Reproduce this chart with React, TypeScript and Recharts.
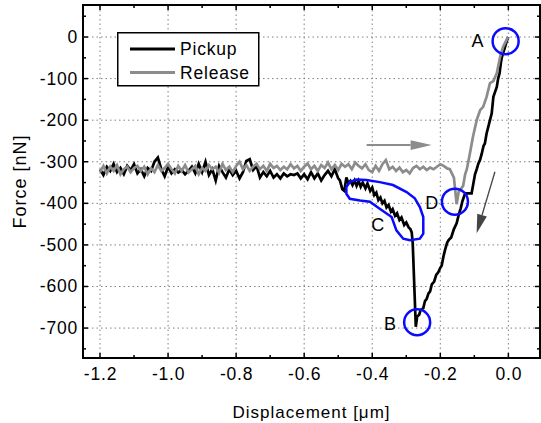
import React from 'react';
import { ComposedChart, Line, XAxis, YAxis, ReferenceLine, ReferenceDot, ReferenceArea, Legend } from 'recharts';

const FONT = '"Liberation Sans", Arial, Helvetica, sans-serif';
const CHART_W = 541;
const CHART_H = 423;
const MARGIN = { top: 5, right: 1, bottom: 0, left: 0 };
const PLOT_TOP = MARGIN.top;
const PLOT_RIGHT = CHART_W - MARGIN.right;

const xDomain = [-1.25, 0.093];
const yDomain = [-772, 77];
const xTicks = [-1.2, -1.1, -1.0, -0.9, -0.8, -0.7, -0.6, -0.5, -0.4, -0.3, -0.2, -0.1, 0];
const yTicks = [-750, -700, -650, -600, -550, -500, -450, -400, -350, -300, -250, -200, -150, -100, -50, 0, 50];
const xGrid = [-1.2, -1.0, -0.8, -0.6, -0.4, -0.2, 0];
const yGrid = [-700, -600, -500, -400, -300, -200, -100, 0];

// displacement [um], force [nN]
const pickup = [
  [-1.2, -318], [-1.19, -332], [-1.18, -312], [-1.17, -322], [-1.16, -305], [-1.15, -325], [-1.14, -315],
  [-1.13, -330], [-1.12, -310], [-1.11, -320], [-1.1, -306], [-1.09, -328], [-1.08, -318], [-1.07, -335],
  [-1.06, -315], [-1.05, -322], [-1.04, -300], [-1.03, -290], [-1.02, -318], [-1.01, -335], [-1.0, -312],
  [-0.99, -328], [-0.98, -318], [-0.97, -326], [-0.96, -320], [-0.95, -330], [-0.94, -322], [-0.93, -312],
  [-0.92, -328], [-0.91, -305], [-0.9, -325], [-0.89, -300], [-0.88, -332], [-0.87, -318], [-0.86, -345],
  [-0.85, -310], [-0.84, -325], [-0.83, -338], [-0.82, -318], [-0.81, -332], [-0.8, -322], [-0.79, -340],
  [-0.78, -325], [-0.77, -298], [-0.76, -294], [-0.75, -320], [-0.74, -310], [-0.73, -338], [-0.72, -325],
  [-0.71, -335], [-0.7, -322], [-0.69, -338], [-0.68, -330], [-0.67, -340], [-0.66, -328], [-0.65, -335],
  [-0.64, -330], [-0.63, -332], [-0.62, -328], [-0.61, -340], [-0.6, -330], [-0.59, -342], [-0.58, -325],
  [-0.57, -340], [-0.56, -328], [-0.55, -345], [-0.54, -332], [-0.53, -322], [-0.52, -335], [-0.51, -318],
  [-0.5, -340], [-0.495, -345], [-0.488, -366], [-0.482, -370], [-0.476, -338], [-0.47, -352], [-0.464, -346],
  [-0.458, -356], [-0.452, -345], [-0.446, -358], [-0.44, -346], [-0.434, -360], [-0.428, -350], [-0.42, -364],
  [-0.414, -352], [-0.406, -370], [-0.4, -362], [-0.394, -380], [-0.388, -374], [-0.382, -392], [-0.376, -386],
  [-0.37, -400], [-0.364, -394], [-0.358, -410], [-0.352, -404], [-0.345, -420], [-0.34, -414], [-0.333, -430],
  [-0.327, -424], [-0.32, -440], [-0.314, -434], [-0.306, -452], [-0.3, -446], [-0.293, -458], [-0.288, -462],
  [-0.284, -470], [-0.281, -496], [-0.272, -697], [-0.268, -672], [-0.262, -668], [-0.258, -657], [-0.25, -652],
  [-0.245, -635], [-0.24, -630], [-0.235, -617], [-0.23, -612], [-0.225, -595], [-0.218, -588], [-0.212, -572],
  [-0.206, -566], [-0.2, -555], [-0.196, -550], [-0.19, -525], [-0.186, -512], [-0.18, -495], [-0.175, -488],
  [-0.168, -482], [-0.16, -462], [-0.152, -448], [-0.145, -425], [-0.14, -412], [-0.135, -395], [-0.127, -376],
  [-0.108, -376], [-0.104, -358], [-0.098, -330], [-0.093, -318], [-0.088, -304], [-0.083, -295], [-0.078, -280],
  [-0.073, -262], [-0.069, -256], [-0.064, -232], [-0.059, -216], [-0.054, -200], [-0.049, -184], [-0.046, -160],
  [-0.044, -144], [-0.039, -132], [-0.034, -120], [-0.03, -100], [-0.026, -88], [-0.022, -62], [-0.019, -48],
  [-0.014, -35], [-0.01, -24], [-0.004, -8], [0, 0],
];

const release = [
  [-1.2, -325], [-1.19, -310], [-1.18, -328], [-1.17, -312], [-1.16, -322], [-1.15, -308], [-1.14, -330],
  [-1.13, -318], [-1.12, -312], [-1.11, -325], [-1.1, -315], [-1.09, -310], [-1.08, -322], [-1.07, -312],
  [-1.06, -330], [-1.05, -316], [-1.04, -325], [-1.03, -308], [-1.02, -322], [-1.01, -315], [-1.0, -305],
  [-0.99, -318], [-0.98, -328], [-0.97, -310], [-0.96, -322], [-0.95, -308], [-0.94, -326], [-0.93, -318],
  [-0.92, -310], [-0.91, -330], [-0.9, -315], [-0.89, -322], [-0.88, -308], [-0.87, -318], [-0.86, -312],
  [-0.85, -326], [-0.84, -305], [-0.83, -320], [-0.82, -312], [-0.81, -325], [-0.8, -310], [-0.79, -300],
  [-0.78, -318], [-0.77, -308], [-0.76, -322], [-0.75, -312], [-0.74, -305], [-0.73, -318], [-0.72, -310],
  [-0.71, -322], [-0.7, -305], [-0.69, -315], [-0.68, -310], [-0.67, -320], [-0.66, -312], [-0.65, -318],
  [-0.64, -306], [-0.63, -316], [-0.62, -310], [-0.61, -322], [-0.6, -312], [-0.59, -304], [-0.58, -318],
  [-0.57, -310], [-0.56, -322], [-0.55, -308], [-0.54, -315], [-0.53, -302], [-0.52, -318], [-0.51, -308],
  [-0.5, -320], [-0.49, -305], [-0.48, -312], [-0.47, -306], [-0.46, -318], [-0.45, -302], [-0.44, -310],
  [-0.43, -316], [-0.42, -306], [-0.41, -320], [-0.4, -325], [-0.39, -310], [-0.38, -322], [-0.37, -306],
  [-0.36, -296], [-0.35, -318], [-0.34, -312], [-0.33, -322], [-0.32, -314], [-0.31, -325], [-0.3, -320],
  [-0.29, -328], [-0.28, -315], [-0.27, -310], [-0.26, -318], [-0.25, -312], [-0.24, -320], [-0.23, -314],
  [-0.22, -318], [-0.21, -312], [-0.2, -306], [-0.19, -310], [-0.18, -316], [-0.172, -318], [-0.166, -328],
  [-0.16, -338], [-0.152, -402], [-0.146, -372], [-0.14, -366], [-0.133, -358], [-0.127, -330], [-0.122, -318],
  [-0.113, -280], [-0.104, -240], [-0.093, -200], [-0.083, -176], [-0.074, -168], [-0.064, -144], [-0.054, -111],
  [-0.044, -106], [-0.034, -87], [-0.024, -47], [-0.015, -23], [-0.006, -8], [-0.001, 0],
];

// hand-drawn outline around region C
const outlineC = [
  [-0.476, -361], [-0.466, -349], [-0.446, -343], [-0.417, -344], [-0.378, -349], [-0.339, -356], [-0.299, -373],
  [-0.275, -388], [-0.26, -409], [-0.25, -433], [-0.25, -473], [-0.26, -485], [-0.289, -489], [-0.309, -485],
  [-0.329, -465], [-0.343, -433], [-0.378, -413], [-0.407, -396], [-0.436, -393], [-0.466, -389], [-0.476, -377],
  [-0.476, -361],
];

const circles = [
  { name: 'A', x: -0.008, y: -10 },
  { name: 'D', x: -0.157, y: -396 },
  { name: 'B', x: -0.268, y: -686 },
];

const letters = [
  { name: 'A', x: -0.091, y: -9 },
  { name: 'D', x: -0.225, y: -398 },
  { name: 'B', x: -0.348, y: -690 },
  { name: 'C', x: -0.384, y: -450 },
];

const toRows = (pairs: number[][]) => pairs.map(([x, force]) => ({ x, force }));

const makeArrow = (color: string, width: number, headLen: number, headHalf: number) => (props: any) => {
  const { x1, y1, x2, y2 } = props;
  if (![x1, y1, x2, y2].every((v) => Number.isFinite(v))) return <g />;
  const dx = x2 - x1;
  const dy = y2 - y1;
  const len = Math.hypot(dx, dy) || 1;
  const ux = dx / len;
  const uy = dy / len;
  const bx = x2 - ux * headLen;
  const by = y2 - uy * headLen;
  const px = -uy * headHalf;
  const py = ux * headHalf;
  return (
    <g>
      <line x1={x1} y1={y1} x2={bx} y2={by} stroke={color} strokeWidth={width} />
      <polygon points={`${x2},${y2} ${bx + px},${by + py} ${bx - px},${by - py}`} fill={color} />
    </g>
  );
};

const isMajorX = (v: number) => Math.abs(Math.round(v * 10)) % 2 === 0;
const isMajorY = (v: number) => Math.abs(v) % 100 === 0;

const XTick = (props: any) => {
  const { x, y, payload } = props;
  const v = payload.value;
  const major = isMajorX(v);
  const len = major ? 5 : 3;
  return (
    <g>
      <line x1={x} y1={y} x2={x} y2={y - len} stroke="#000" strokeWidth={1.5} />
      <line x1={x} y1={PLOT_TOP} x2={x} y2={PLOT_TOP + len} stroke="#000" strokeWidth={1.5} />
      {major && (
        <text x={x + 0.5} y={y + 22} textAnchor="middle" fontFamily={FONT} fontSize={17.5} fill="#000" style={{ letterSpacing: '0.8px' }}>
          {v === 0 ? '0.0' : v.toFixed(1)}
        </text>
      )}
    </g>
  );
};

const YTick = (props: any) => {
  const { x, y, payload } = props;
  const v = payload.value;
  const major = isMajorY(v);
  const len = major ? 5 : 3;
  return (
    <g>
      <line x1={x} y1={y} x2={x + len} y2={y} stroke="#000" strokeWidth={1.5} />
      <line x1={PLOT_RIGHT} y1={y} x2={PLOT_RIGHT - len} y2={y} stroke="#000" strokeWidth={1.5} />
      {major && (
        <text x={x - 5} y={y + 6} textAnchor="end" fontFamily={FONT} fontSize={17.5} fill="#000" style={{ letterSpacing: '0.8px' }}>
          {String(v)}
        </text>
      )}
    </g>
  );
};

const LegendBox = (props: any) => {
  const items = (props.payload || []).filter((p: any) => p.value === 'Pickup' || p.value === 'Release');
  return (
    <svg width={143} height={55} style={{ display: 'block' }}>
      <rect x={0.75} y={0.75} width={141} height={53} fill="#fff" stroke="#000" strokeWidth={1.5} />
      {items.map((item: any, i: number) => (
        <g key={item.value}>
          <line x1={13} x2={58} y1={17 + i * 23.5} y2={17 + i * 23.5} stroke={item.color} strokeWidth={3} />
          <text x={63} y={23 + i * 23.5} fontFamily={FONT} fontSize={17.5} fill="#000" style={{ letterSpacing: '0.8px' }}>
            {item.value}
          </text>
        </g>
      ))}
    </svg>
  );
};

export default function App() {
  return (
    <div style={{ position: 'absolute', left: 0, top: 0, width: CHART_W, height: CHART_H, background: '#fff', fontFamily: FONT }}>
      <ComposedChart width={CHART_W} height={CHART_H} margin={MARGIN}>
        <XAxis
          dataKey="x"
          type="number"
          domain={xDomain}
          ticks={xTicks}
          allowDataOverflow
          axisLine={false}
          tickLine={false}
          tickSize={0}
          tickMargin={0}
          height={65}
          tick={<XTick />}
          interval={0}
          label={{ value: 'Displacement [μm]', position: 'insideBottom', offset: 5, fill: '#000', fontSize: 17, fontFamily: FONT, style: { letterSpacing: '1px' } }}
        />
        <YAxis
          type="number"
          domain={yDomain}
          ticks={yTicks}
          allowDataOverflow
          axisLine={false}
          tickLine={false}
          tickSize={0}
          tickMargin={0}
          width={83}
          tick={<YTick />}
          interval={0}
          label={{ value: 'Force [nN]', angle: -90, position: 'insideLeft', offset: 20, fill: '#000', fontSize: 18, fontFamily: FONT, style: { textAnchor: 'middle', letterSpacing: '1px' } }}
        />
        {xGrid.map((v) => (
          <ReferenceLine key={'gx' + v} x={v} stroke="#808080" strokeWidth={1} strokeDasharray="1.5 3" />
        ))}
        {yGrid.map((v) => (
          <ReferenceLine key={'gy' + v} y={v} stroke="#808080" strokeWidth={1} strokeDasharray="1.5 3" />
        ))}
        <Legend
          layout="vertical"
          align="center"
          verticalAlign="middle"
          content={<LegendBox />}
          wrapperStyle={{ left: 117, top: 32, width: 143, height: 55 }}
        />
        <Line data={toRows(pickup)} dataKey="force" name="Pickup" type="linear" stroke="#000000" strokeWidth={2.7} dot={false} activeDot={false} isAnimationActive={false} />
        <Line data={toRows(release)} dataKey="force" name="Release" type="linear" stroke="#8c8c8c" strokeWidth={2.7} dot={false} activeDot={false} isAnimationActive={false} />
        <Line data={toRows(outlineC)} dataKey="force" name="outline" legendType="none" type="linear" stroke="#0a0aff" strokeWidth={2.5} dot={false} activeDot={false} isAnimationActive={false} />
        <ReferenceLine
          segment={[{ x: -0.4164, y: -260 }, { x: -0.2254, y: -260 }]}
          shape={makeArrow('#8c8c8c', 2, 21, 4.8)}
        />
        <ReferenceLine
          segment={[{ x: -0.0394, y: -324 }, { x: -0.0932, y: -472 }]}
          shape={makeArrow('#454545', 1.3, 19, 5)}
        />
        {circles.map((c) => (
          <ReferenceDot key={'c' + c.name} x={c.x} y={c.y} r={13} fill="none" stroke="#0a0aff" strokeWidth={2.5} />
        ))}
        {letters.map((l) => (
          <ReferenceDot
            key={'l' + l.name}
            x={l.x}
            y={l.y}
            r={1}
            fill="none"
            stroke="none"
            label={{ value: l.name, position: 'center', fill: '#000', fontSize: 18, fontFamily: FONT }}
          />
        ))}
        <ReferenceArea x1={xDomain[0]} x2={xDomain[1]} y1={yDomain[0]} y2={yDomain[1]} fill="none" stroke="#000" strokeWidth={2} />
      </ComposedChart>
    </div>
  );
}
